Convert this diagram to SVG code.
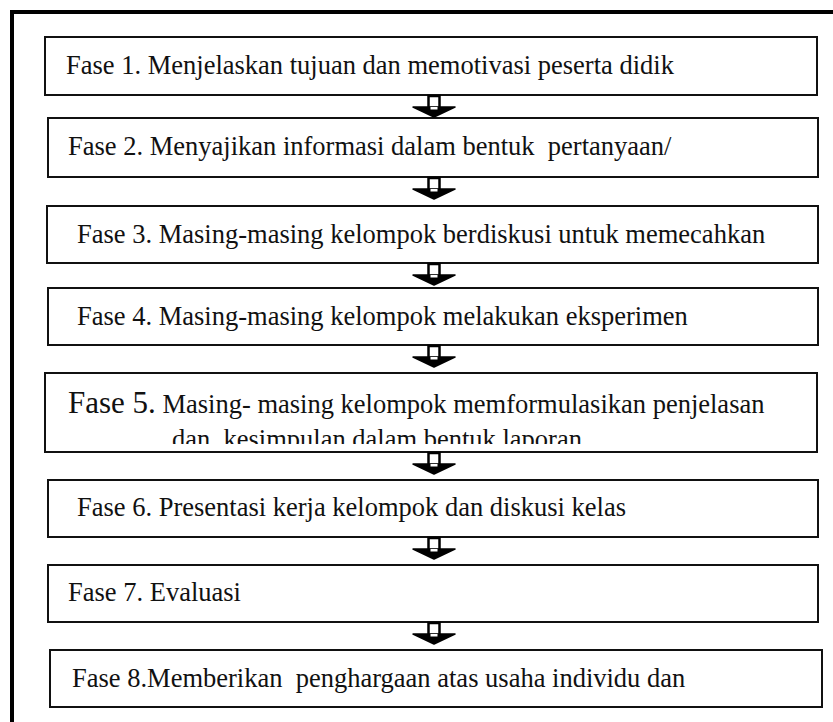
<svg xmlns="http://www.w3.org/2000/svg" xmlns:xlink="http://www.w3.org/1999/xlink" width="833" height="722" viewBox="0 0 833 722">
  <style>
    .box { fill: #ffffff; stroke: #111111; stroke-width: 2; }
    .label { font-family: "Liberation Serif", "Times New Roman", serif; font-size: 26.5px; fill: #111111; }
    .big { font-size: 31px; }
    .frame { fill: none; stroke: #000000; stroke-width: 4; }
    .stem { fill: #ffffff; stroke: #000000; stroke-width: 2.5; }
    .head { fill: #000000; stroke: #000000; stroke-width: 1.5; stroke-linejoin: round; }
  </style>
  <defs>
    <!-- block down-arrow: outlined stem over a solid head, origin at top centre -->
    <g id="down">
      <rect class="stem" x="-5.5" y="0" width="11" height="12"/>
      <path class="head" d="M -21,11 L 21,11 L 0,21 Z"/>
      <rect x="-3.5" y="11" width="7" height="2.5" fill="#ffffff"/>
    </g>
    <clipPath id="clip5">
      <rect x="46" y="374" width="770" height="70"/>
    </clipPath>
  </defs>
  <rect width="833" height="722" fill="#ffffff"/>

  <!-- outer frame (left and top edges) -->
  <path class="frame" d="M 12,722 V 12 H 833"/>

  <g id="fase1">
    <rect class="box" x="45" y="37" width="772" height="58"/>
    <text class="label" x="66" y="74">Fase 1. Menjelaskan tujuan dan memotivasi peserta didik</text>
  </g>
  <g id="fase2">
    <rect class="box" x="48" y="118" width="770" height="59"/>
    <text class="label" x="68" y="155" xml:space="preserve">Fase 2. Menyajikan informasi dalam bentuk  pertanyaan/</text>
  </g>
  <g id="fase3">
    <rect class="box" x="47" y="206" width="771" height="57"/>
    <text class="label" x="77" y="243">Fase 3. Masing-masing kelompok berdiskusi untuk memecahkan</text>
  </g>
  <g id="fase4">
    <rect class="box" x="48" y="288" width="770" height="57"/>
    <text class="label" x="77" y="325">Fase 4. Masing-masing kelompok melakukan eksperimen</text>
  </g>
  <g id="fase5">
    <rect class="box" x="45" y="373" width="772" height="79"/>
    <text class="label" x="68" y="413"><tspan class="big">Fase 5.</tspan> Masing- masing kelompok memformulasikan penjelasan</text>
    <text class="label" x="172" y="448" clip-path="url(#clip5)" xml:space="preserve">dan  kesimpulan dalam bentuk laporan</text>
  </g>
  <g id="fase6">
    <rect class="box" x="48" y="480" width="770" height="57"/>
    <text class="label" x="77" y="516">Fase 6. Presentasi kerja kelompok dan diskusi kelas</text>
  </g>
  <g id="fase7">
    <rect class="box" x="48" y="565" width="770" height="57"/>
    <text class="label" x="68" y="601">Fase 7. Evaluasi</text>
  </g>
  <g id="fase8">
    <rect class="box" x="50" y="650" width="772" height="57"/>
    <text class="label" x="72" y="687" xml:space="preserve">Fase 8.Memberikan  penghargaan atas usaha individu dan</text>
  </g>

  <g id="connectors">
    <use xlink:href="#down" x="434" y="96"/>
    <use xlink:href="#down" x="434" y="178"/>
    <use xlink:href="#down" x="434" y="264"/>
    <use xlink:href="#down" x="434" y="346"/>
    <use xlink:href="#down" x="434" y="453"/>
    <use xlink:href="#down" x="434" y="538"/>
    <use xlink:href="#down" x="434" y="623"/>
  </g>
</svg>
